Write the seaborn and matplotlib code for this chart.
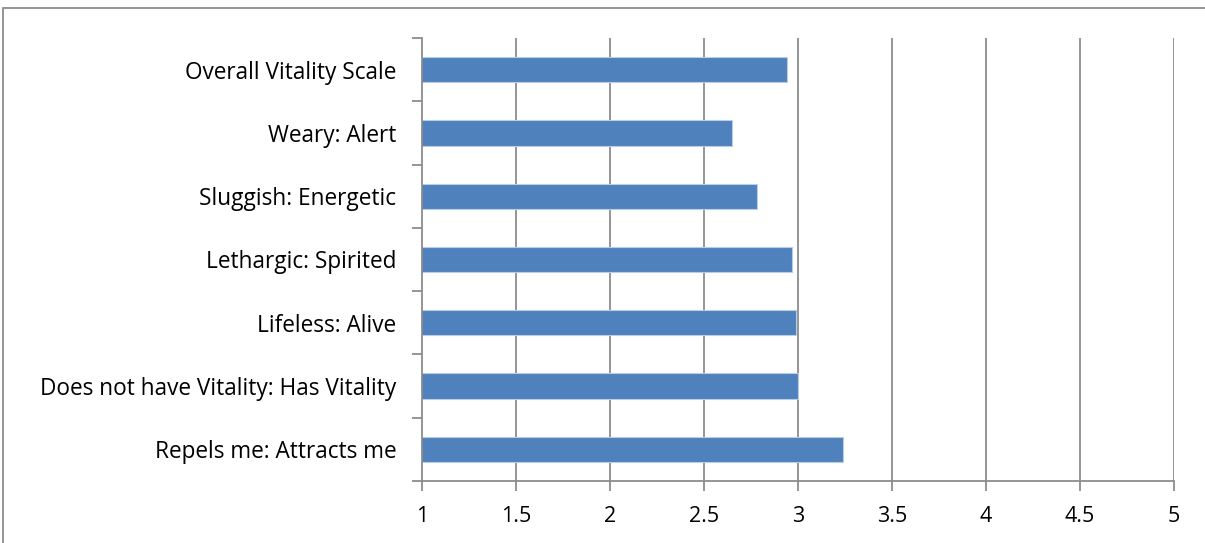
import matplotlib
matplotlib.use("Agg")
import matplotlib.pyplot as plt
from matplotlib.patches import Rectangle
from matplotlib.ticker import FixedLocator
import seaborn as sns
import pandas as pd

categories = [
    "Overall Vitality Scale",
    "Weary: Alert",
    "Sluggish: Energetic",
    "Lethargic: Spirited",
    "Lifeless: Alive",
    "Does not have Vitality: Has Vitality",
    "Repels me: Attracts me",
]
scores = [2.94, 2.65, 2.78, 2.97, 2.99, 3.00, 3.24]
x_ticks = [1, 1.5, 2, 2.5, 3, 3.5, 4, 4.5, 5]
x_tick_labels = ["1", "1.5", "2", "2.5", "3", "3.5", "4", "4.5", "5"]

sns.set_style("white")
plt.rcParams["font.family"] = ["Open Sans", "DejaVu Sans"]

df = pd.DataFrame({"item": categories, "score": scores})

fig = plt.figure(figsize=(12.05, 5.43), dpi=100)
ax = fig.add_axes([422 / 1205, 1 - 481 / 543, (1174 - 422) / 1205, (481 - 38) / 543])

grid_color = "#8c8c8c"
label_size = 16.3

# vertical gridlines behind the bars
for xv in x_ticks[1:]:
    ax.axvline(xv, color=grid_color, lw=1.3, zorder=0)

sns.barplot(data=df, x="score", y="item", orient="h", order=categories,
            color="#4F81BD", saturation=1, width=0.4,
            edgecolor="#B9CDE5", linewidth=0.8, ax=ax, zorder=2)

ax.set_xlim(1, 5)
ax.set_ylim(6.5, -0.5)
ax.set_xlabel("")
ax.set_ylabel("")

ax.xaxis.set_major_locator(FixedLocator(x_ticks))
ax.set_xticklabels(x_tick_labels)
ax.tick_params(axis="x", direction="out", length=7, width=1.3, color=grid_color,
               labelsize=15.5, pad=11, bottom=True)

ax.set_yticks(range(len(categories)))
ax.set_yticklabels(categories)
ax.yaxis.set_minor_locator(FixedLocator([i - 0.5 for i in range(len(categories) + 1)]))
ax.tick_params(axis="y", which="major", length=0, labelsize=label_size, pad=18.5)
ax.tick_params(axis="y", which="minor", direction="out", length=7, width=1.3,
               color=grid_color, left=True)

for side in ["top", "right"]:
    ax.spines[side].set_visible(False)
for side in ["left", "bottom"]:
    ax.spines[side].set_color(grid_color)
    ax.spines[side].set_linewidth(1.3)

for lab in ax.get_xticklabels() + ax.get_yticklabels():
    lab.set_color("black")

# outer chart frame
fig.patches.append(Rectangle((3 / 1205, -0.1), 1.2, 1 - 8 / 543 + 0.1,
                             transform=fig.transFigure, fill=False,
                             edgecolor="#8c8c8c", lw=1.3))

fig.savefig("out.png", dpi=100)
